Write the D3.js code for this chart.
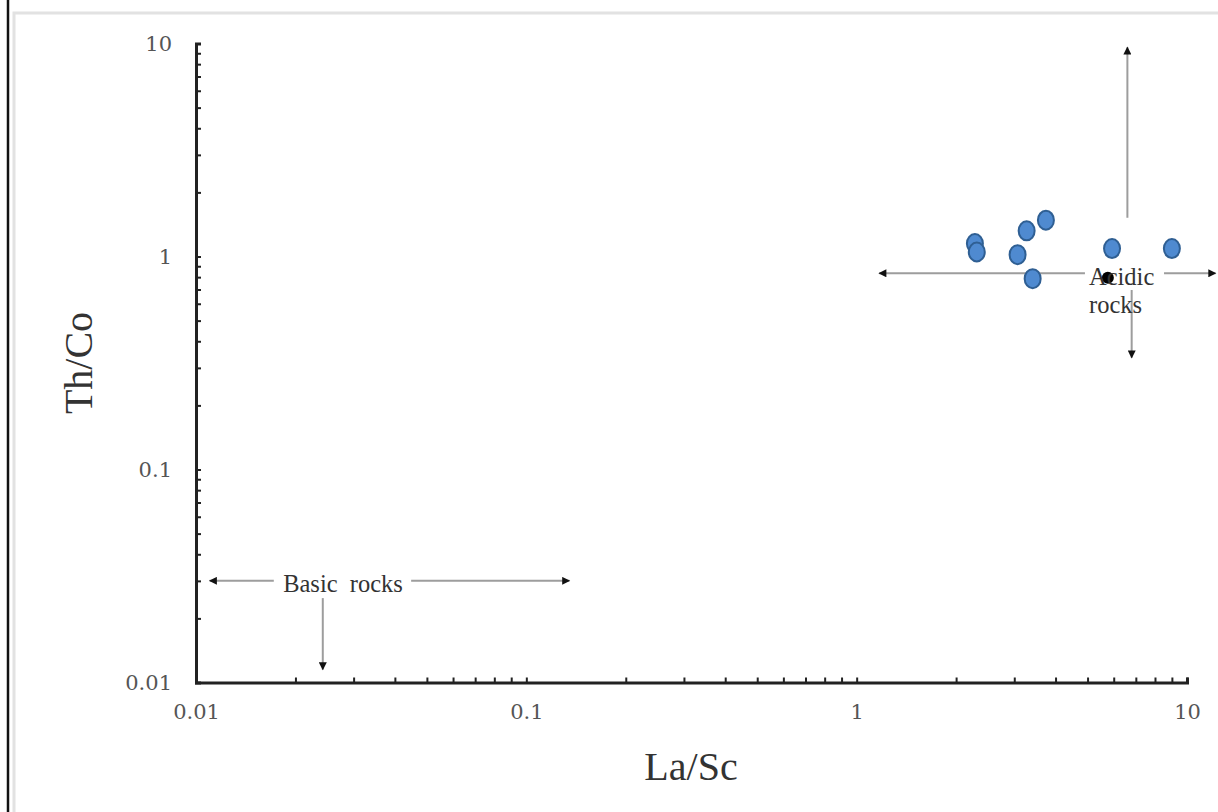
<!doctype html>
<html lang="en">
<head>
<meta charset="utf-8">
<title>Th/Co vs La/Sc</title>
<script src="https://cdn.jsdelivr.net/npm/d3@7"></script>
<style>
  body { margin: 0; background: #fff; }
  svg { display: block; }
</style>
</head>
<body>
<svg id="chart"></svg>
<script>
// sample points (La/Sc, Th/Co)
var laSc = [2.28, 2.31, 3.27, 3.74, 3.07, 3.41, 5.93, 9.0];
var thCo = [1.15, 1.05, 1.32, 1.48, 1.02, 0.787, 1.09, 1.09];
// black reference point
var refPoint = [5.76, 0.795];

var xTickLabels = ["0.01", "0.1", "1", "10"];
var yTickLabels = ["0.01", "0.1", "1", "10"];

// annotation arrows in data coordinates: [x1, y1, x2, y2] (arrowhead at x2,y2)
var acidicArrows = [
  [4.91, 0.834, 1.17, 0.834],
  [8.52, 0.834, 12.2, 0.834],
  [6.6, 1.52, 6.6, 9.6],
  [6.8, 0.696, 6.8, 0.335]
];
var basicArrows = [
  [0.0172, 0.03, 0.011, 0.03],
  [0.0448, 0.03, 0.135, 0.03],
  [0.0242, 0.0249, 0.0242, 0.0115]
];

var W = 1218, H = 812;
var svg = d3.select("#chart").attr("width", W).attr("height", H);

// picture frame
svg.append("line").attr("x1", 8).attr("x2", 8).attr("y1", 0).attr("y2", H)
  .attr("stroke", "#111").attr("stroke-width", 2.5);
svg.append("path").attr("d", "M14," + H + "V13H" + W)
  .attr("fill", "none").attr("stroke", "#e2e2e2").attr("stroke-width", 3);

var x = d3.scaleLog().domain([0.01, 10]).range([196, 1187]);
var y = d3.scaleLog().domain([0.01, 10]).range([682.5, 43.5]);

var x_ticks = x.ticks(), y_ticks = y.ticks();
var isMajor = function(v){ return Math.abs(Math.log10(v) - Math.round(Math.log10(v))) < 1e-9; };

var xAxis = d3.axisBottom(x).tickValues(x_ticks).tickSize(-5).tickPadding(22)
  .tickFormat(function(d){ return isMajor(d) ? xTickLabels[Math.round(Math.log10(d)) + 2] : ""; });
var yAxis = d3.axisLeft(y).tickValues(y_ticks).tickSize(-5).tickPadding(24)
  .tickFormat(function(d){ return isMajor(d) ? yTickLabels[Math.round(Math.log10(d)) + 2] : ""; });

var gx = svg.append("g").attr("transform", "translate(0,682.5)").call(xAxis);
var gy = svg.append("g").attr("transform", "translate(196,0)").call(yAxis);

[gx, gy].forEach(function(g){
  g.select(".domain").attr("stroke", "#222").attr("stroke-width", 3);
  g.selectAll(".tick line").attr("stroke", "#222").attr("stroke-width", 2);
  g.selectAll(".tick text").attr("fill", "#555")
    .style("font-family", "'DejaVu Serif', serif").style("font-size", "21px");
});
gy.selectAll(".tick text").attr("dy", "0.35em");

// axis titles
svg.append("text").attr("x", 691).attr("y", 780).attr("text-anchor", "middle")
  .style("font-family", "'Liberation Serif', serif").style("font-size", "40px")
  .attr("fill", "#333").text("La/Sc");
svg.append("text").attr("transform", "translate(92,363) rotate(-90)").attr("text-anchor", "middle")
  .style("font-family", "'Liberation Serif', serif").style("font-size", "40px")
  .attr("fill", "#333").text("Th/Co");

// arrowhead marker
svg.append("defs").append("marker").attr("id", "head")
  .attr("viewBox", "0 0 10 10").attr("refX", 9).attr("refY", 5)
  .attr("markerWidth", 9).attr("markerHeight", 8).attr("orient", "auto")
  .attr("markerUnits", "userSpaceOnUse")
  .append("path").attr("d", "M0,0L10,5L0,10Z").attr("fill", "#111");

var arrows = svg.append("g").attr("id", "arrows");
arrows.selectAll("line")
  .data(acidicArrows.concat(basicArrows))
  .enter().append("line")
  .attr("x1", function(d){ return x(d[0]); })
  .attr("y1", function(d){ return y(d[1]); })
  .attr("x2", function(d){ return x(d[2]); })
  .attr("y2", function(d){ return y(d[3]); })
  .attr("stroke", "#9d9d9d").attr("stroke-width", 2)
  .attr("marker-end", "url(#head)");

// points
svg.append("g").attr("id", "points")
  .selectAll("ellipse")
  .data(d3.range(laSc.length))
  .enter().append("ellipse")
  .attr("cx", function(i){ return x(laSc[i]); })
  .attr("cy", function(i){ return y(thCo[i]); })
  .attr("rx", 8).attr("ry", 9.5)
  .attr("fill", "#4f8ad0").attr("stroke", "#2f5f93").attr("stroke-width", 2);

svg.append("circle").attr("cx", x(refPoint[0])).attr("cy", y(refPoint[1]))
  .attr("r", 6).attr("fill", "#000");

// annotation labels
var lab = svg.append("g").style("font-family", "'Liberation Serif', serif")
  .style("font-size", "24.5px").attr("fill", "#333");
lab.append("text").attr("x", x(5.05)).attr("y", y(0.735)).text("Acidic");
lab.append("text").attr("x", x(5.05)).attr("y", y(0.543)).text("rocks");
lab.append("text").attr("x", x(0.01836)).attr("y", y(0.0266)).attr("xml:space", "preserve")
  .style("white-space", "pre").text("Basic  rocks");
</script>
</body>
</html>
